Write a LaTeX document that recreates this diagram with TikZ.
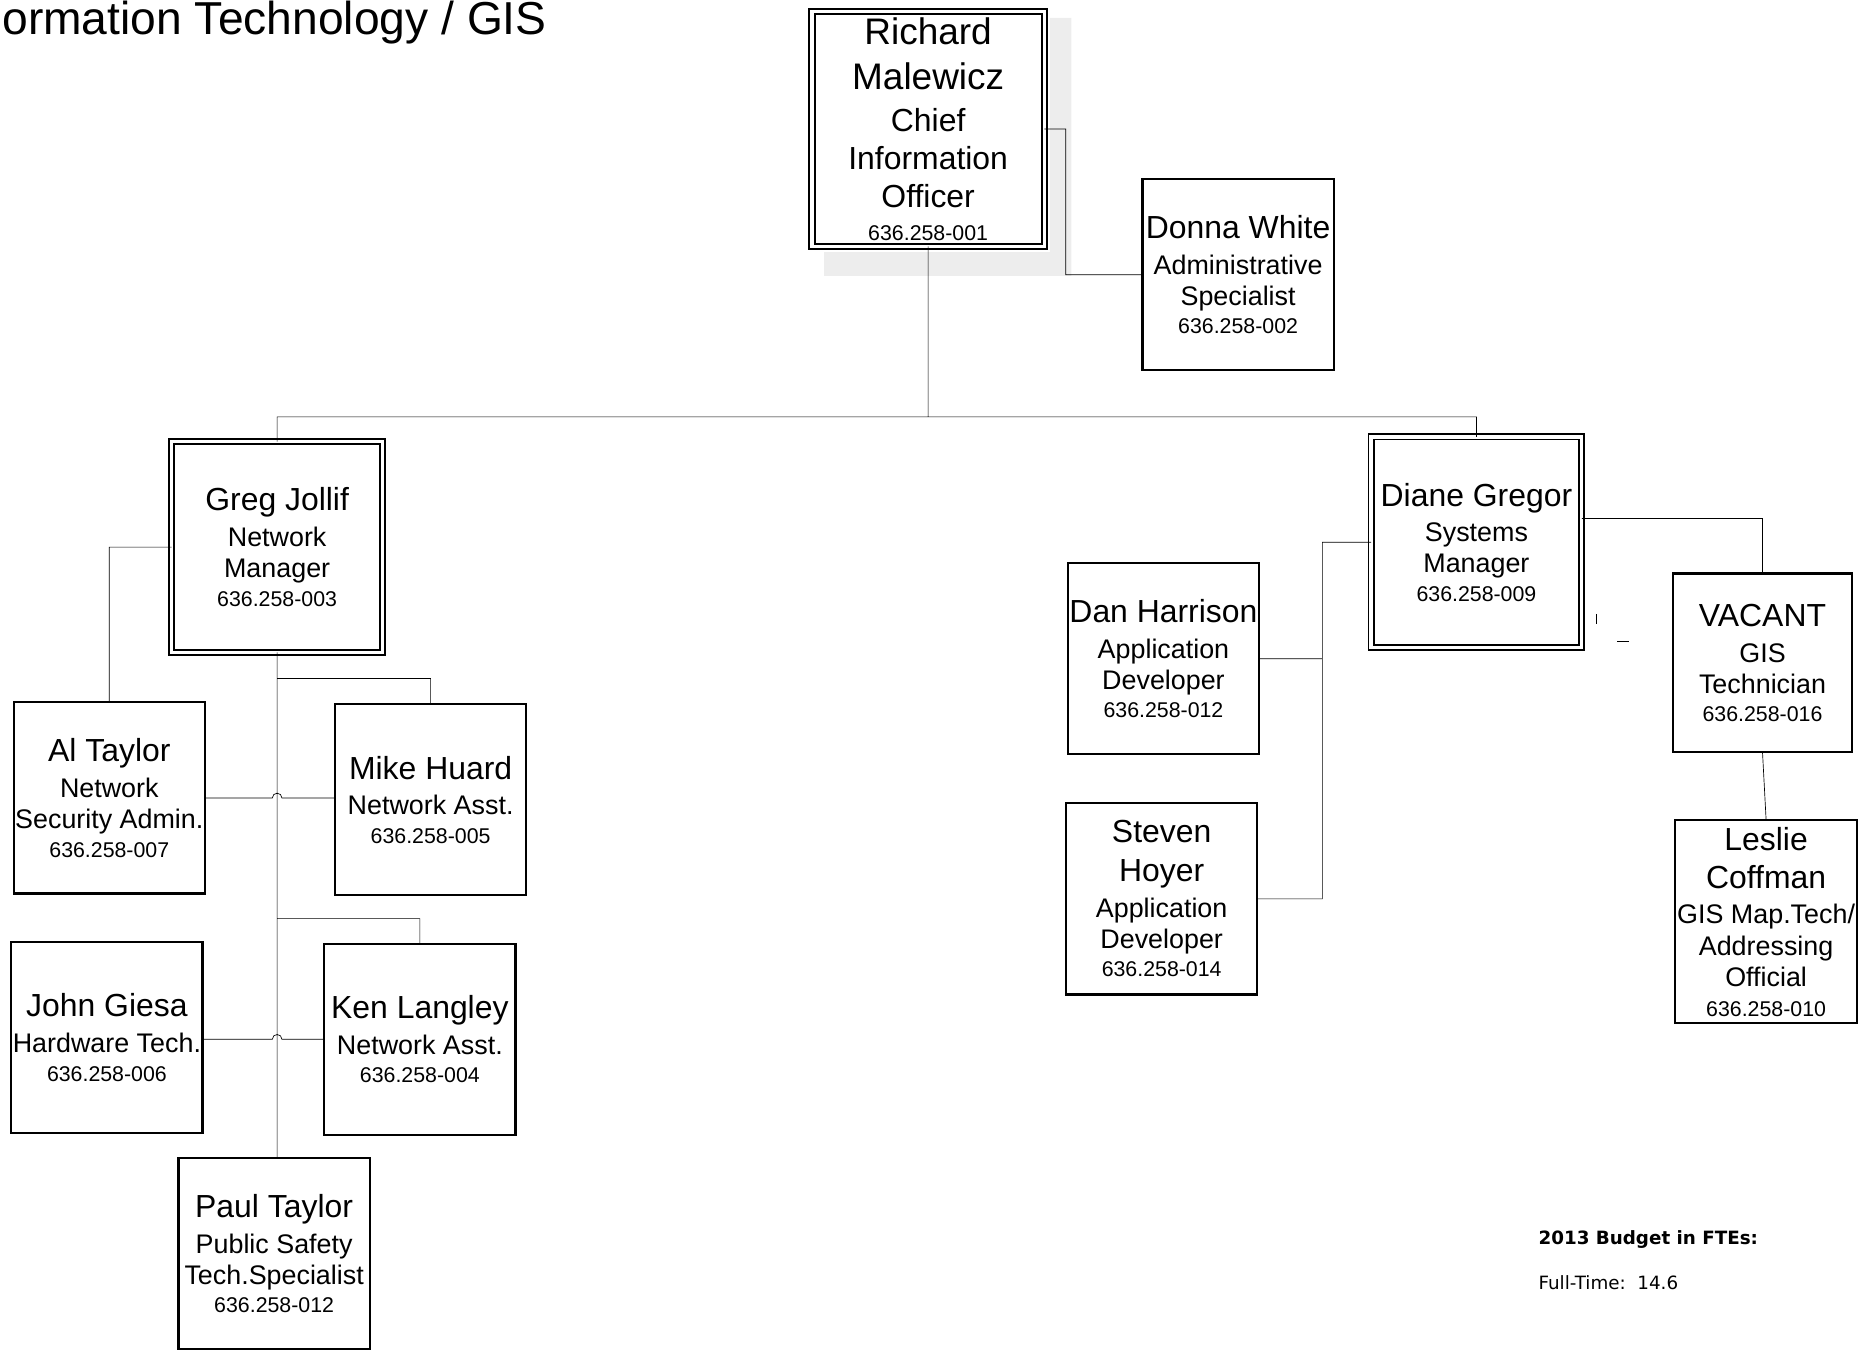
\documentclass[tikz,border=0pt]{standalone}
\usepackage{fontspec}
\setmainfont{Liberation Sans}
\newfontfamily\budgetfont{DejaVu Sans}
\usetikzlibrary{positioning}
\tikzset{
    x=0.025cm, % one unit is one pixel of the scanned chart
    y=-0.025cm, % y grows downwards, as in the scan
    every node/.style={align=center, inner sep=0pt, outer sep=0pt, font=\fontsize{16}{18.5}\selectfont}, % job title lines
    line width=1.2pt, % width of the connecting lines
}
\newcommand{\pname}[1]{{\fontsize{19}{19}\selectfont #1}}
\newcommand{\pext}[1]{{\fontsize{12.7}{12.7}\selectfont #1}}

\begin{document}
\begin{tikzpicture}[
                styleBox/.style={draw, line width=1.3pt, minimum width=4cm, minimum height=4cm},
                styleHead/.style={draw, double, line width=1.1pt, double distance=2pt, minimum width=4.41cm, minimum height=4.41cm},
            ]
            \useasboundingbox (0,0) rectangle (1568,1131);
            % grey scan shadow beside the top box
            \fill[black!7] (879,15) rectangle (897,231) (690,211) rectangle (879,231);
            \node[anchor=base west, font=\fontsize{27.5}{27.5}\selectfont] (title) at (2,29) {ormation Technology / GIS};
            \node[styleHead, minimum width=4.86cm, minimum height=4.91cm, font=\fontsize{19}{22.7}\selectfont] (cio) at (777,108)
                {{\fontsize{22}{22}\selectfont Richard}\\[4.3pt]{\fontsize{22}{22}\selectfont Malewicz}\\[2.3pt]Chief\\Information\\Officer\\[-3.5pt]\pext{636.258-001}};
            \node[styleBox] (admin) at (1036.5,230) {\pname{Donna White}\\[2.8pt]Administrative\\Specialist\\[-1.5pt]\pext{636.258-002}};
            \node[styleHead] (netmgr) at (232,458) {\pname{Greg Jollif}\\[2.8pt]Network\\Manager\\[-1.5pt]\pext{636.258-003}};
            \node[styleHead] (sysmgr) at (1236,454) {\pname{Diane Gregor}\\[2.8pt]Systems\\Manager\\[-1.5pt]\pext{636.258-009}};
            \node[styleBox] (secadm) at (91.5,668) {\pname{Al Taylor}\\[2.8pt]Network\\Security Admin.\\[-1.5pt]\pext{636.258-007}};
            \node[styleBox] (netasst1) at (360.5,669.5) {\pname{Mike Huard}\\[2.8pt]Network Asst.\\[-1.5pt]\pext{636.258-005}};
            \node[styleBox] (hwtech) at (89.5,868.5) {\pname{John Giesa}\\[2.8pt]Hardware Tech.\\[-1.5pt]\pext{636.258-006}};
            \node[styleBox] (netasst2) at (351.5,870) {\pname{Ken Langley}\\[2.8pt]Network Asst.\\[-1.5pt]\pext{636.258-004}};
            \node[styleBox] (pubsafety) at (229.5,1049.5) {\pname{Paul Taylor}\\[2.8pt]Public Safety\\Tech.Specialist\\[-1.5pt]\pext{636.258-012}};
            \node[styleBox] (appdev1) at (974,551.5) {\pname{Dan Harrison}\\[2.8pt]Application\\Developer\\[-1.5pt]\pext{636.258-012}};
            \node[styleBox] (appdev2) at (972.5,752.5) {\pname{Steven}\\[4.5pt]\pname{Hoyer}\\[2.8pt]Application\\Developer\\[-1.5pt]\pext{636.258-014}};
            \node[styleBox, minimum width=3.76cm, minimum height=3.74cm] (gistech) at (1475.5,555) {\pname{VACANT}\\[2.8pt]GIS\\Technician\\[-1.5pt]\pext{636.258-016}};
            \node[styleBox, minimum width=3.81cm, minimum height=4.26cm] (gisaddr) at (1478.5,771.5) {\pname{Leslie}\\[4.2pt]\pname{Coffman}\\[2.8pt]GIS Map.Tech/\\Addressing\\Official\\[-0.7pt]\pext{636.258-010}};
            \node[anchor=west, font=\budgetfont\bfseries\fontsize{10.9}{10.9}\selectfont] (budget) at (1288,1038) {2013 Budget in FTEs:};
            \node[anchor=west, font=\budgetfont\fontsize{10.9}{10.9}\selectfont] (fte) at (1288,1074) {Full-Time:\ \ 14.6};
            \coordinate (bus) at (777,349);
            \coordinate (gb1) at (232,568);
            \coordinate (hop1) at (228,668);
            \coordinate (gb2) at (232,769);
            \coordinate (hop2) at (228,870);
            \coordinate (db) at (1107,454);
            \draw
            (cio.east) -- ++(18,0) |- (admin.west)
            (cio.south) -- (bus)
            (netmgr.north) |- (bus) -| (sysmgr.north)
            (netmgr.west) -| (secadm.north)
            (netmgr.south) -- (netmgr.south |- pubsafety.north)
            (gb1) -| (netasst1.north)
            (gb2) -| (netasst2.north)
            (secadm.east |- hop1) -- (hop1) arc[start angle=180, end angle=360, radius=4] -- (netasst1.west |- hop1)
            (hwtech.east |- hop2) -- (hop2) arc[start angle=180, end angle=360, radius=4] -- (netasst2.west |- hop2)
            (sysmgr.west) -- (db) |- (appdev2.east)
            (appdev1.east) -- (db |- appdev1.east)
            ([yshift=0.5cm]sysmgr.east) -| (gistech.north)
            (gistech.south) -- (gisaddr.north);
            % stray marks of the scan
            \draw (1336,514) -- (1336,522) (1354,537) -- (1364,537);
        \end{tikzpicture}
\end{document}
